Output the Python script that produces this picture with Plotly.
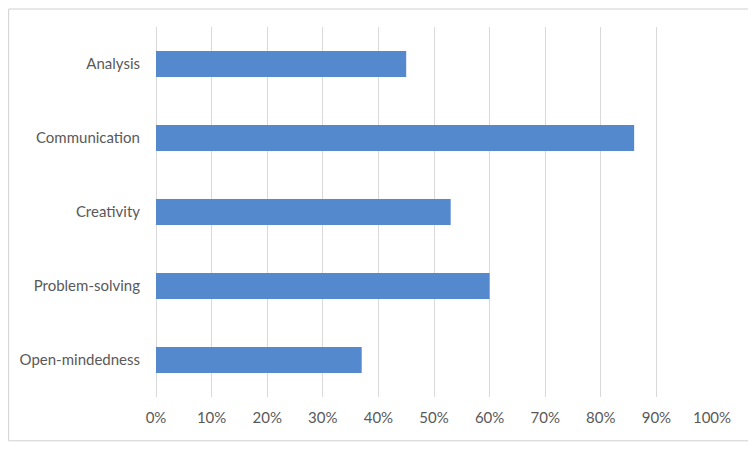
import plotly.graph_objects as go

categories = ["Analysis", "Communication", "Creativity", "Problem-solving", "Open-mindedness"]
values = [0.45, 0.86, 0.53, 0.60, 0.37]
tick_vals = [0, 0.1, 0.2, 0.3, 0.4, 0.5, 0.6, 0.7, 0.8, 0.9, 1.0]
tick_text = ["0%", "10%", "20%", "30%", "40%", "50%", "60%", "70%", "80%", "90%", "100%"]

fig = go.Figure(go.Bar(
    x=values, y=categories, orientation="h",
    marker=dict(color="#5589CE", line=dict(width=0)),
    width=0.35,
))

fig.update_layout(
    width=756, height=450,
    margin=dict(l=148, r=52, t=19, b=61),
    paper_bgcolor="white", plot_bgcolor="white",
    font=dict(family="Lato, Open Sans, sans-serif", size=15, color="#595959"),
    showlegend=False,
    xaxis=dict(
        range=[0, 1.0], tickvals=tick_vals, ticktext=tick_text,
        showgrid=True, gridcolor="#D9D9D9", gridwidth=1,
        zeroline=True, zerolinecolor="#D9D9D9", zerolinewidth=1,
        showline=False, ticks="", ticklabelstandoff=10, fixedrange=True,
    ),
    yaxis=dict(
        categoryorder="array", categoryarray=categories[::-1],
        showgrid=False, showline=False, ticks="", ticklabelstandoff=15,
    ),
    shapes=[dict(
        type="rect", xref="paper", yref="paper",
        x0=-0.265, x1=1.0689, y0=-0.1184, y1=1.0486,
        line=dict(color="#D0D0D0", width=1), fillcolor="rgba(0,0,0,0)", layer="below",
    )],
)

fig.write_html("out.html")
